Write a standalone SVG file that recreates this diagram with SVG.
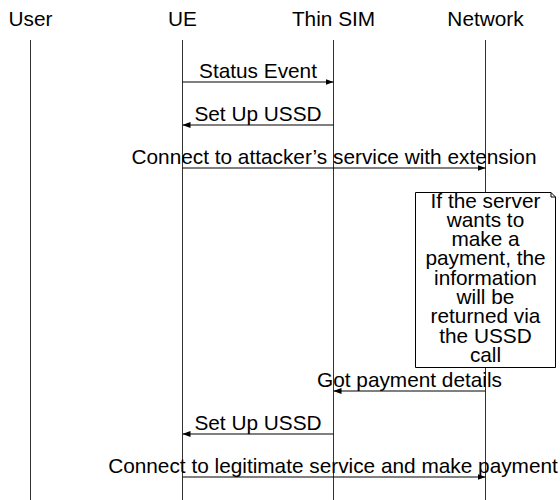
<svg xmlns="http://www.w3.org/2000/svg" width="560" height="500" viewBox="0 0 560 500">
<style>
text{font-family:"Liberation Sans",Arial,sans-serif;font-size:20.8px;fill:#000;text-anchor:middle}
.life{stroke:#333;stroke-width:1;fill:none}
.msg{stroke:#000;stroke-width:1;fill:none;marker-end:url(#ah)}
.note{fill:#fff;stroke:#000;stroke-width:1}
</style>
<defs>
<marker id="ah" viewBox="0 0 8 6" refX="8" refY="3" markerWidth="8" markerHeight="6" orient="auto" markerUnits="userSpaceOnUse">
<path d="M0,0 L8,3 L0,6 z" fill="#000"/>
</marker>
</defs>
<rect width="560" height="500" fill="#fff"/>
<g id="user"><text x="30.5" y="26">User</text><line class="life" x1="30.5" y1="40" x2="30.5" y2="500"/></g>
<g id="ue"><text x="182.5" y="26">UE</text><line class="life" x1="182.5" y1="40" x2="182.5" y2="500"/></g>
<g id="thinsim"><text x="333.5" y="26">Thin SIM</text><line class="life" x1="333.5" y1="40" x2="333.5" y2="500"/></g>
<g id="network"><text x="485.5" y="26">Network</text><line class="life" x1="485.5" y1="40" x2="485.5" y2="500"/></g>
<g id="connectors">
<line class="msg" x1="182.5" y1="82" x2="333.5" y2="82"/>
<text x="258" y="78">Status Event</text>
<line class="msg" x1="333.5" y1="125" x2="182.5" y2="125"/>
<text x="258" y="121">Set Up USSD</text>
<line class="msg" x1="182.5" y1="168" x2="485.5" y2="168"/>
<text x="334" y="164">Connect to attacker’s service with extension</text>
<line class="msg" x1="485.5" y1="391" x2="333.5" y2="391"/>
<text x="409.5" y="387">Got payment details</text>
<line class="msg" x1="333.5" y1="434" x2="182.5" y2="434"/>
<text x="258" y="430">Set Up USSD</text>
<line class="msg" x1="182.5" y1="477" x2="485.5" y2="477"/>
<text x="333" y="473">Connect to legitimate service and make payment</text>
</g>
<g id="note">
<path class="note" d="M415.5,192.5 H551 L555.5,197 V367.5 H415.5 Z"/>
<path d="M551,192.5 V197 H555.5" fill="none" stroke="#000" stroke-width="1"/>
<text x="485.5" y="207.5">If the server</text>
<text x="485.5" y="226.8">wants to</text>
<text x="485.5" y="246.1">make a</text>
<text x="485.5" y="265.4">payment, the</text>
<text x="485.5" y="284.7">information</text>
<text x="485.5" y="304">will be</text>
<text x="485.5" y="323.3">returned via</text>
<text x="485.5" y="342.6">the USSD</text>
<text x="485.5" y="361.9">call</text>
</g>
</svg>
